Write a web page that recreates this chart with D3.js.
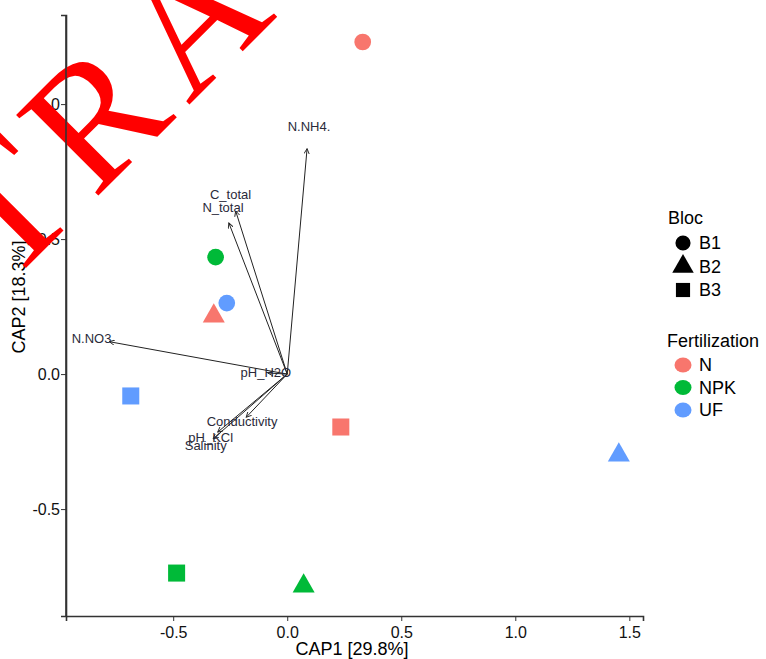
<!DOCTYPE html>
<html>
<head>
<meta charset="utf-8">
<script src="https://cdn.jsdelivr.net/npm/d3@7"></script>
<style>
    body { margin: 0; background: #fff; }
    text { font-family: Arial, "Liberation Sans", sans-serif; }
</style>
</head>
<body>
<div id="chart"></div>
<script>
// samples: fertilization x bloc, site scores on CAP1 / CAP2
const fert = ["N", "NPK", "UF", "N", "NPK", "UF", "N", "NPK", "UF"];
const bloc = ["B1", "B1", "B1", "B2", "B2", "B2", "B3", "B3", "B3"];
const cap1 = [0.331, -0.314, -0.265, -0.322, 0.072, 1.454, 0.235, -0.485, -0.686];
const cap2 = [1.23, 0.433, 0.263, 0.215, -0.785, -0.30, -0.196, -0.737, -0.081];

// environmental vectors (biplot arrows)
const envNames = ["N.NH4.", "C_total", "N_total", "N.NO3", "pH_H2O", "Conductivity", "pH_KCl", "Salinity"];
const envX = [0.087, -0.226, -0.256, -0.78, -0.085, -0.18, -0.305, -0.325];
const envY = [0.835, 0.604, 0.56, 0.12, 0.004, -0.16, -0.215, -0.24];

const xTicks = [-0.5, 0.0, 0.5, 1.0, 1.5];
const yTicks = [-0.5, 0.0, 0.5, 1.0];

const blocLevels = ["B1", "B2", "B3"];
const fertLevels = ["N", "NPK", "UF"];
const fertColors = ["#F8766D", "#00BA38", "#619CFF"];

const W = 766, H = 659;
const svg = d3.select("#chart").append("svg")
    .attr("width", W)
    .attr("height", H);

// scales
const x = d3.scaleLinear().domain([-0.97, 1.56]).range([66, 643]);
const y = d3.scaleLinear().domain([-0.896, 1.33]).range([616, 15]);
const color = d3.scaleOrdinal().domain(fertLevels).range(fertColors);
const shape = d3.scaleOrdinal().domain(blocLevels)
    .range([d3.symbolCircle, d3.symbolTriangle, d3.symbolSquare]);
const shapeSize = {B1: 220, B2: 210, B3: 290};

const fmt = d => d3.format(".1f")(d).replace("−", "-");

// axes
const xAxis = svg.append("g")
    .attr("transform", `translate(0,${y.range()[0]})`)
    .call(d3.axisBottom(x).tickValues(xTicks).tickFormat(fmt).tickSizeOuter(0).tickSize(5));
const yAxis = svg.append("g")
    .attr("transform", `translate(${x.range()[0]},0)`)
    .call(d3.axisLeft(y).tickValues(yTicks).tickFormat(fmt).tickSizeOuter(0).tickSize(5));

[xAxis, yAxis].forEach(a => {
    a.select(".domain").attr("stroke", "#333").attr("stroke-width", 1.6);
    a.selectAll(".tick line").attr("stroke", "#333").attr("stroke-width", 1);
    a.selectAll(".tick text").attr("fill", "#111").style("font-size", "16px")
        .style("font-family", "Arial, 'Liberation Sans', sans-serif");
});
xAxis.selectAll(".tick text").attr("dy", "0.85em");
yAxis.selectAll(".tick text").attr("x", -6);

// axis titles
svg.append("text")
    .attr("x", 352).attr("y", 655)
    .attr("text-anchor", "middle")
    .style("font-size", "18px")
    .text("CAP1 [29.8%]");
svg.append("text")
    .attr("transform", "translate(25,297) rotate(-90)")
    .attr("text-anchor", "middle")
    .style("font-size", "18px")
    .text("CAP2 [18.3%]");

// arrow marker
svg.append("defs").append("marker")
    .attr("id", "head")
    .attr("viewBox", "0 0 8 8")
    .attr("refX", 7).attr("refY", 4)
    .attr("markerWidth", 6).attr("markerHeight", 6)
    .attr("markerUnits", "userSpaceOnUse")
    .attr("orient", "auto")
    .append("path")
    .attr("d", "M0,0.5 L7,4 L0,7.5")
    .attr("fill", "none")
    .attr("stroke", "#222")
    .attr("stroke-width", 1.2);

const env = envNames.map((n, i) => ({name: n, x: envX[i], y: envY[i]}));

const arrowGroup = svg.append("g").attr("class", "arrows");
arrowGroup.selectAll("line")
    .data(env)
    .join("line")
    .attr("x1", x(0)).attr("y1", y(0))
    .attr("x2", d => x(d.x)).attr("y2", d => y(d.y))
    .attr("stroke", "#222")
    .attr("stroke-width", 1)
    .attr("marker-end", "url(#head)");

arrowGroup.selectAll("text")
    .data(env)
    .join("text")
    .attr("x", d => x(d.x * 1.1))
    .attr("y", d => y(d.y * 1.1))
    .attr("dy", "0.35em")
    .attr("text-anchor", "middle")
    .attr("fill", "#2a2a3a")
    .style("font-size", "13px")
    .text(d => d.name);

// sample points
const samples = fert.map((f, i) => ({fert: f, bloc: bloc[i], x: cap1[i], y: cap2[i]}));
svg.append("g").attr("class", "points")
    .selectAll("path")
    .data(samples)
    .join("path")
    .attr("transform", d => `translate(${x(d.x)},${y(d.y)})`)
    .attr("d", d => d3.symbol().type(shape(d.bloc)).size(shapeSize[d.bloc])())
    .attr("fill", d => color(d.fert));

// legends
const leg = svg.append("g").attr("class", "legend");
leg.append("text").attr("x", 668).attr("y", 224).style("font-size", "18px").text("Bloc");
leg.selectAll(".bloc-item")
    .data(blocLevels)
    .join("g")
    .attr("class", "bloc-item")
    .attr("transform", (d, i) => `translate(683,${243 + i * 23.5})`)
    .call(g => {
        g.append("path")
            .attr("d", d => d3.symbol().type(shape(d)).size(d === "B1" ? 180 : 200)())
            .attr("fill", "#000");
        g.append("text").attr("x", 16).attr("dy", "0.36em")
            .style("font-size", "18px").text(d => d);
    });

leg.append("text").attr("x", 667).attr("y", 347).style("font-size", "18px").text("Fertilization");
leg.selectAll(".fert-item")
    .data(fertLevels)
    .join("g")
    .attr("class", "fert-item")
    .attr("transform", (d, i) => `translate(683,${365 + i * 22.5})`)
    .call(g => {
        g.append("ellipse").attr("rx", 8.5).attr("ry", 7.5).attr("fill", d => color(d));
        g.append("text").attr("x", 16).attr("dy", "0.36em")
            .style("font-size", "18px").text(d => d);
    });

// red watermark over the chart
svg.append("text")
    .attr("transform", "translate(-175,469) rotate(-45)")
    .attr("text-anchor", "start")
    .attr("fill", "#ff0000")
    .style("font-family", "'Liberation Serif', 'Times New Roman', serif")
    .style("font-size", "176px")
    .style("letter-spacing", "16px")
    .text("RETRACTED");

// the y axis line stays visible through the watermark
svg.append("line")
    .attr("x1", x.range()[0]).attr("x2", x.range()[0])
    .attr("y1", y.range()[1]).attr("y2", y.range()[0])
    .attr("stroke", "#333")
    .attr("stroke-width", 1.6);
</script>
</body>
</html>
